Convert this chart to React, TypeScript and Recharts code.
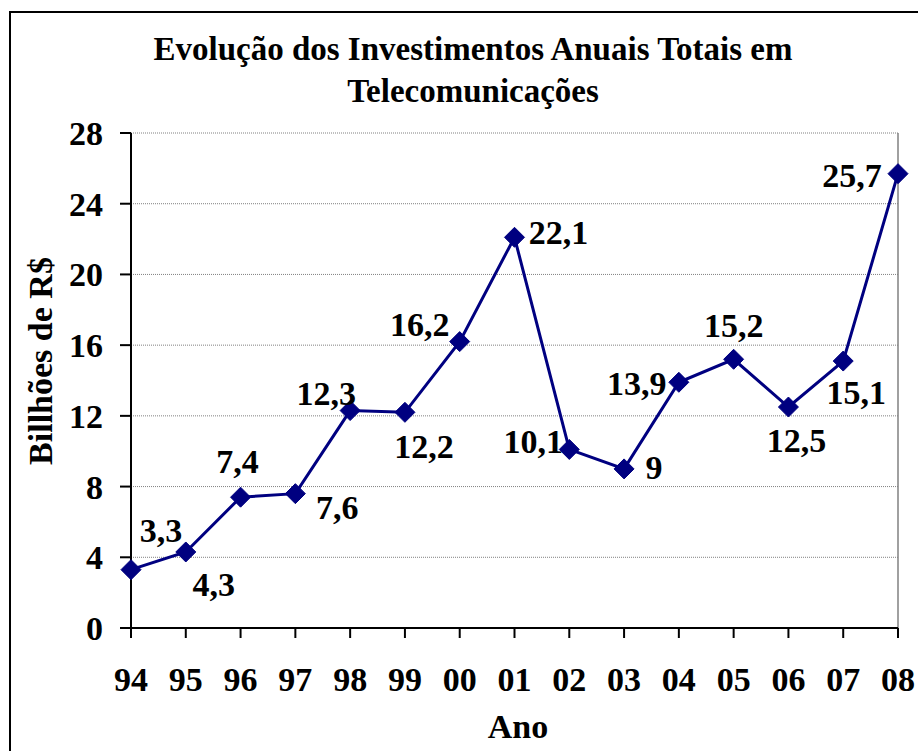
import React from "react";
import {
  LineChart,
  Line,
  XAxis,
  YAxis,
  CartesianGrid,
  ReferenceLine,
  LabelList,
} from "recharts";

const years = ["94", "95", "96", "97", "98", "99", "00", "01", "02", "03", "04", "05", "06", "07", "08"];
const investments = [3.3, 4.3, 7.4, 7.6, 12.3, 12.2, 16.2, 22.1, 10.1, 9, 13.9, 15.2, 12.5, 15.1, 25.7];
const yTicks = [0, 4, 8, 12, 16, 20, 24, 28];
const titleLines = ["Evolução dos Investimentos Anuais Totais em", "Telecomunicações"];
const yAxisTitle = "Billhões de R$";
const xAxisTitle = "Ano";

// label placement offsets (style only)
const labelDx = [30, 28, -3, 42, -24, 19, -40, 44, -36, 30, -42, 0, 8, 13, -46];
const labelDy = [-40, 32, -36, 13, -18, 34, -18, -5, -8, -2, 1, -34, 33, 31, 1];

const data = years.map((y, i) => ({ year: y, value: investments[i] }));

const FONT = "'Liberation Serif', 'Times New Roman', serif";
const NAVY = "#000080";

const Diamond = (props: any) => {
  const { cx, cy } = props;
  if (cx == null || cy == null) return null;
  const r = 10;
  return (
    <path
      d={`M${cx},${cy - r} L${cx + r},${cy} L${cx},${cy + r} L${cx - r},${cy} Z`}
      fill={NAVY}
      stroke={NAVY}
      strokeWidth={1}
    />
  );
};

const ValueLabel = (props: any) => {
  const { x, y, value, index } = props;
  const text = String(value).replace(".", ",");
  return (
    <text
      x={x + labelDx[index]}
      y={y + labelDy[index] + 12}
      textAnchor="middle"
      fontFamily={FONT}
      fontWeight="bold"
      fontSize={34}
      fill="#000"
    >
      {text}
    </text>
  );
};

export default function App() {
  return (
    <div
      style={{
        position: "fixed",
        left: 0,
        top: 0,
        width: 918,
        height: 751,
        overflow: "hidden",
        background: "#fff",
      }}
    >
      <div
        style={{
          position: "absolute",
          left: 9,
          top: 11,
          width: 1000,
          height: 1000,
          border: "2px solid #000",
          boxSizing: "border-box",
        }}
      />
      <LineChart
        width={918}
        height={751}
        data={data}
        margin={{ top: 133, right: 20, bottom: 0, left: 10 }}
        style={{ position: "absolute", left: 0, top: 0 }}
      >
        <CartesianGrid
          horizontal={true}
          vertical={false}
          stroke="#808080"
          strokeDasharray="1 1"
        />
        <ReferenceLine x="08" stroke="#808080" strokeWidth={1.5} />
        <XAxis
          dataKey="year"
          height={123}
          tickSize={10}
          tickMargin={29}
          axisLine={{ stroke: "#000", strokeWidth: 2 }}
          tickLine={{ stroke: "#000", strokeWidth: 2 }}
          tick={{ fontFamily: FONT, fontWeight: "bold", fontSize: 34, fill: "#000" }}
          interval={0}
        />
        <YAxis
          width={121}
          domain={[0, 28]}
          ticks={yTicks}
          tickSize={11}
          tickMargin={17}
          axisLine={{ stroke: "#000", strokeWidth: 2 }}
          tickLine={{ stroke: "#000", strokeWidth: 2 }}
          tick={{ fontFamily: FONT, fontWeight: "bold", fontSize: 34, fill: "#000" }}
          interval={0}
        />
        <Line
          type="linear"
          dataKey="value"
          stroke={NAVY}
          strokeWidth={3}
          dot={<Diamond />}
          activeDot={false}
          isAnimationActive={false}
        >
          <LabelList dataKey="value" content={<ValueLabel />} />
        </Line>
      </LineChart>
      <svg
        width={918}
        height={751}
        style={{ position: "absolute", left: 0, top: 0, pointerEvents: "none" }}
      >
        <text x={473} y={60} textAnchor="middle" fontFamily={FONT} fontWeight="bold" fontSize={33} fill="#000">
          {titleLines[0]}
        </text>
        <text x={473} y={102} textAnchor="middle" fontFamily={FONT} fontWeight="bold" fontSize={33} fill="#000">
          {titleLines[1]}
        </text>
        <text
          x={0}
          y={0}
          transform="translate(52,361) rotate(-90)"
          textAnchor="middle"
          fontFamily={FONT}
          fontWeight="bold"
          fontSize={34}
          fill="#000"
        >
          {yAxisTitle}
        </text>
        <text x={518} y={738} textAnchor="middle" fontFamily={FONT} fontWeight="bold" fontSize={34} fill="#000">
          {xAxisTitle}
        </text>
      </svg>
    </div>
  );
}
